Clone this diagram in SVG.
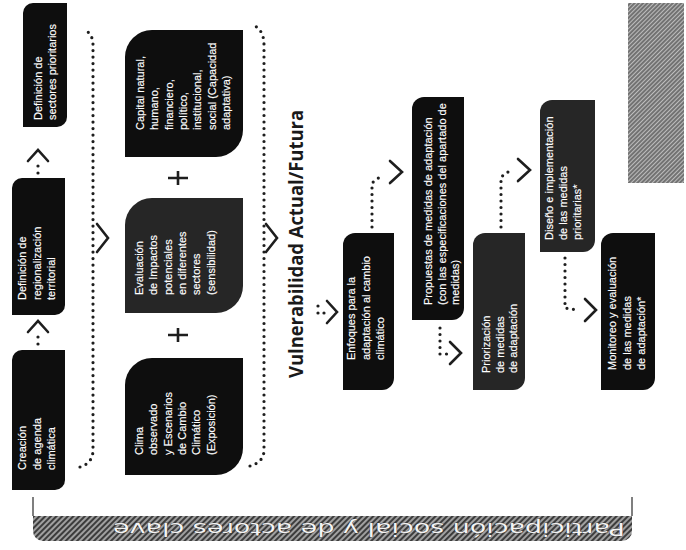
<svg xmlns="http://www.w3.org/2000/svg" width="686" height="550" viewBox="0 0 686 550">
<style>
.box{fill:#0e0e0e}
.box2{fill:#262626}
.t{font-family:"Liberation Sans",Arial,sans-serif;font-size:11px;fill:#ffffff;stroke:#ffffff;stroke-width:0.15}
.title{font-family:"Open Sans","Liberation Sans",sans-serif;font-size:19px;font-weight:700;fill:#1a1a1a}
.bar{font-family:"DejaVu Sans","Liberation Sans",sans-serif;font-size:17px;fill:#f4f4f4;stroke:#2a2a2a;stroke-width:0.5;paint-order:stroke}
.dots{fill:none;stroke:#1e1e1e;stroke-width:3.2;stroke-linecap:round;stroke-dasharray:0 6.5}
.chev{fill:none;stroke:#1e1e1e;stroke-width:2.6;stroke-linecap:round;stroke-linejoin:miter}
.dot{fill:#1e1e1e}
.plus{fill:none;stroke:#1e1e1e;stroke-width:2.6}
</style>
<defs>
<pattern id="hatch" width="4" height="4" patternUnits="userSpaceOnUse" patternTransform="rotate(45)">
<rect width="4" height="4" fill="#a0a0a0"/>
<line x1="1" y1="0" x2="1" y2="4" stroke="#3c3c3c" stroke-width="2"/>
</pattern>
<pattern id="hatch2" width="3" height="3" patternUnits="userSpaceOnUse" patternTransform="rotate(45)">
<rect width="3" height="3" fill="#bdbdbd"/>
<line x1="1" y1="0" x2="1" y2="3" stroke="#4a4a4a" stroke-width="1.3"/>
</pattern>
</defs>
<rect width="686" height="550" fill="#ffffff"/>

<g id="creacion">
<path class="box" d="M22,350 H65 V480 A10,10 0 0 1 55,490 H12 V360 A10,10 0 0 1 22,350 Z"/>
<text class="t" transform="translate(26,470) rotate(-90)"><tspan x="0" y="0">Creación</tspan><tspan x="0" dy="14.5">de agenda</tspan><tspan x="0" dy="14.5">climática</tspan></text>
</g>

<g id="regionalizacion">
<path class="box" d="M22,178 H65 V305 A10,10 0 0 1 55,315 H12 V188 A10,10 0 0 1 22,178 Z"/>
<text class="t" transform="translate(26,300) rotate(-90)"><tspan x="0" y="0">Definición de</tspan><tspan x="0" dy="14.5">regionalización</tspan><tspan x="0" dy="14.5">territorial</tspan></text>
</g>

<g id="sectores">
<path class="box" d="M33,3 H67 V117 A10,10 0 0 1 57,127 H23 V13 A10,10 0 0 1 33,3 Z"/>
<text class="t" transform="translate(41.5,120) rotate(-90)"><tspan x="0" y="0">Definición de</tspan><tspan x="0" dy="14.5">sectores prioritarios</tspan></text>
</g>

<g id="capital">
<path class="box" d="M152,30 H243 V130 A27,27 0 0 1 216,157 H125 V57 A27,27 0 0 1 152,30 Z"/>
<text class="t" transform="translate(144,130) rotate(-90)"><tspan x="0" y="0">Capital natural,</tspan><tspan x="0" dy="14.3">humano,</tspan><tspan x="0" dy="14.3">financiero,</tspan><tspan x="0" dy="14.3">político,</tspan><tspan x="0" dy="14.3">institucional,</tspan><tspan x="0" dy="14.3">social (Capacidad</tspan><tspan x="0" dy="14.3">adaptativa)</tspan></text>
</g>

<g id="evaluacion">
<path class="box2" d="M152,198 H243 V286 A27,27 0 0 1 216,313 H125 V225 A27,27 0 0 1 152,198 Z"/>
<text class="t" transform="translate(143,295) rotate(-90)"><tspan x="0" y="0">Evaluación</tspan><tspan x="0" dy="14.3">de Impactos</tspan><tspan x="0" dy="14.3">potenciales</tspan><tspan x="0" dy="14.3">en diferentes</tspan><tspan x="0" dy="14.3">sectores</tspan><tspan x="0" dy="14.3">(sensibilidad)</tspan></text>
</g>

<g id="clima">
<path class="box" d="M152,358 H243 V448 A27,27 0 0 1 216,475 H125 V385 A27,27 0 0 1 152,358 Z"/>
<text class="t" transform="translate(143,455) rotate(-90)"><tspan x="0" y="0">Clima</tspan><tspan x="0" dy="14.3">observado</tspan><tspan x="0" dy="14.3">y Escenarios</tspan><tspan x="0" dy="14.3">de Cambio</tspan><tspan x="0" dy="14.3">Climático</tspan><tspan x="0" dy="14.3">(Exposición)</tspan></text>
</g>

<g id="operators">
<path class="plus" d="M168,178 H188 M178,171 V185"/>
<path class="plus" d="M168,335 H188 M178,328 V342"/>
</g>

<g id="vulnerabilidad">
<text class="title" transform="translate(303,378) rotate(-90)" textLength="268" lengthAdjust="spacingAndGlyphs">Vulnerabilidad Actual/Futura</text>
</g>

<g id="enfoques">
<path class="box" d="M355,233 H394 V378 A12,12 0 0 1 382,390 H343 V245 A12,12 0 0 1 355,233 Z"/>
<text class="t" transform="translate(355,360) rotate(-90)"><tspan x="0" y="0">Enfoques para la</tspan><tspan x="0" dy="14.5">adaptación al cambio</tspan><tspan x="0" dy="14.5">climático</tspan></text>
</g>

<g id="propuestas">
<path class="box" d="M424,97 H464 V308 A12,12 0 0 1 452,320 H412 V109 A12,12 0 0 1 424,97 Z"/>
<text class="t" transform="translate(432,305) rotate(-90)"><tspan x="0" y="0">Propuestas de medidas de adaptación</tspan><tspan x="0" dy="13.5">(con las especificaciones del apartado de</tspan><tspan x="0" dy="13.5">medidas)</tspan></text>
</g>

<g id="priorizacion">
<path class="box2" d="M485,233 H525 V378 A12,12 0 0 1 513,390 H473 V245 A12,12 0 0 1 485,233 Z"/>
<text class="t" transform="translate(490,373) rotate(-90)"><tspan x="0" y="0">Priorización</tspan><tspan x="0" dy="13.5">de medidas</tspan><tspan x="0" dy="13.5">de adaptación</tspan></text>
</g>

<g id="diseno">
<path class="box2" d="M552,100 H595 V240 A12,12 0 0 1 583,252 H540 V112 A12,12 0 0 1 552,100 Z"/>
<text class="t" transform="translate(553,240) rotate(-90)"><tspan x="0" y="0">Diseño e implementación</tspan><tspan x="0" dy="14">de las medidas</tspan><tspan x="0" dy="14">prioritarias*</tspan></text>
</g>

<g id="monitoreo">
<path class="box" d="M613,233 H655 V378 A12,12 0 0 1 643,390 H601 V245 A12,12 0 0 1 613,233 Z"/>
<text class="t" transform="translate(616,370) rotate(-90)"><tspan x="0" y="0">Monitoreo y evaluación</tspan><tspan x="0" dy="14.5">de las medidas</tspan><tspan x="0" dy="14.5">de adaptación*</tspan></text>
</g>

<g id="nota">
<rect x="628" y="3" width="56" height="180" fill="url(#hatch2)"/>
</g>

<g id="participacion">
<path d="M33,497 V516 M632,497 V516" fill="none" stroke="#555" stroke-width="1.5"/>
<path d="M33,516 H632 V531 A10,10 0 0 1 622,541 H43 A10,10 0 0 1 33,531 Z" fill="url(#hatch)"/>
<text class="bar" transform="translate(625,523) rotate(180)" textLength="512" lengthAdjust="spacingAndGlyphs">Participación social y de actores clave</text>
</g>

<g id="connectors">
<path class="chev" d="M28,332 L38,321 L48,332"/>
<circle class="dot" cx="38" cy="337" r="1.6"/><circle class="dot" cx="38" cy="344" r="1.6"/>
<path class="chev" d="M28,161 L38,150 L48,161"/>
<circle class="dot" cx="38" cy="166" r="1.6"/><circle class="dot" cx="38" cy="173" r="1.6"/>

<path class="dots" d="M80,467 Q93,463 93,450 V45 Q93,33 83,29"/>
<path class="chev" d="M97,224 L108,238 L97,252"/>

<path class="dots" d="M250,466 Q264,462 264,450 V45 Q264,31 255,26"/>
<path class="chev" d="M266,224 L277,238 L266,252"/>

<circle class="dot" cx="318" cy="306" r="1.6"/><circle class="dot" cx="318" cy="313" r="1.6"/><circle class="dot" cx="324" cy="313" r="1.6"/>
<path class="chev" d="M327,301 L337,312 L327,323"/>

<path class="dots" d="M372,227 V183 L381,176"/>
<path class="chev" d="M390,161 L402,172 L390,183"/>

<path class="dots" d="M440,328 V354 L447,354"/>
<path class="chev" d="M450,342 L461,353 L450,364"/>

<path class="dots" d="M501,227 V177 L508,172"/>
<path class="chev" d="M518,159 L530,170 L518,181"/>

<path class="dots" d="M565,258 V308 L578,310"/>
<path class="chev" d="M585,299 L596,310 L585,321"/>
</g>
</svg>
